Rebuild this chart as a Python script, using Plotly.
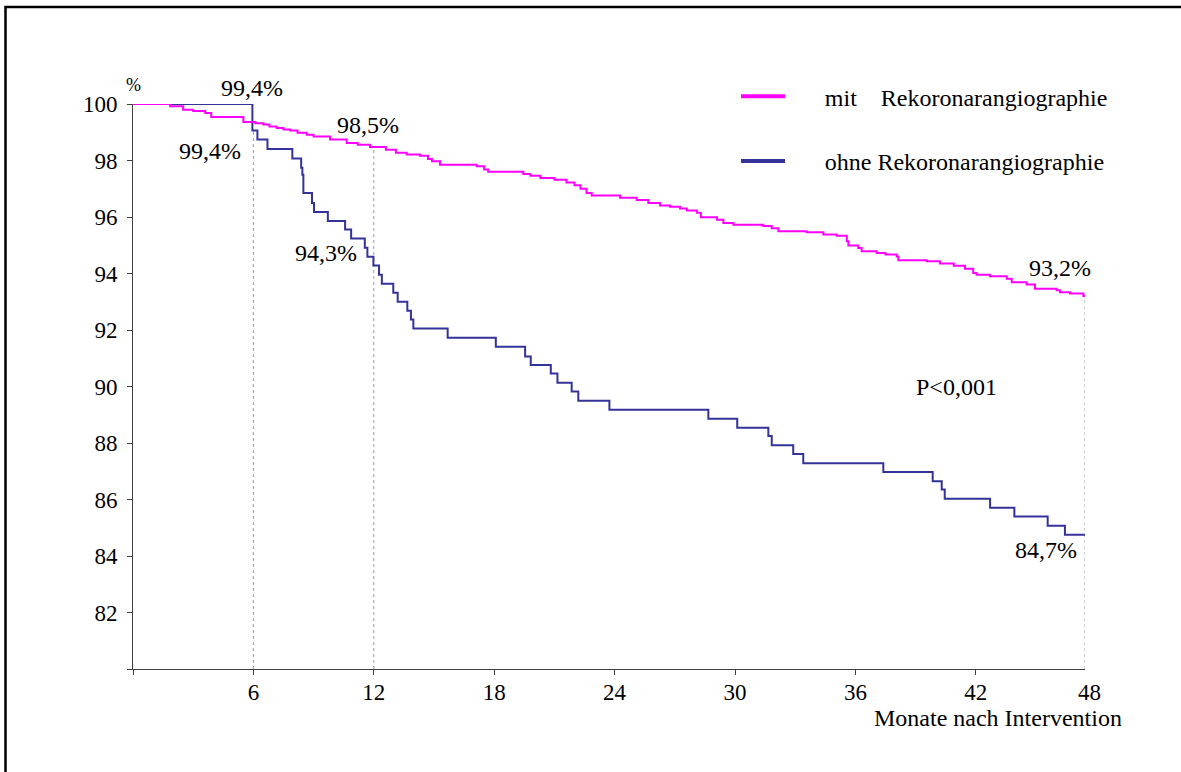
import plotly.graph_objects as go

# ---------------- data ----------------
END_MONTH = 47.44  # right end of the time axis

# "mit Rekoronarangiographie" (magenta) - step times (months) and survival (%)
mit_months = [0, 1.85, 2.5, 3.0, 3.6, 3.9, 5.5, 6.1, 6.5, 6.8, 7.16, 7.5, 7.83, 8.2,
              8.66, 9.0, 9.82, 10.65, 11.2, 11.81, 12.6, 13.1, 13.64, 14.3, 14.7,
              14.9, 15.3, 17.13, 17.5, 17.7, 19.45, 19.8, 20.3, 21.0, 21.6, 22.0,
              22.3, 22.6, 22.86, 24.27, 25.1, 25.68, 26.26, 26.76, 27.26, 27.6,
              28.1, 28.3, 29.1, 29.42, 29.92, 31.41, 31.83, 32.16, 33.57, 34.4,
              35.07, 35.57, 35.65, 36.14, 36.31, 37.06, 37.5, 38.06, 38.14, 39.55,
              40.21, 40.9, 41.46, 41.87, 42.04, 42.7, 43.54, 43.79, 44.53, 44.95,
              46.03, 46.19, 46.69, 47.36, END_MONTH]
mit_values = [100, 99.92, 99.80, 99.75, 99.68, 99.54, 99.36, 99.32, 99.27, 99.20,
              99.15, 99.10, 99.06, 98.98, 98.91, 98.85, 98.74, 98.62, 98.56, 98.48,
              98.38, 98.27, 98.21, 98.17, 98.05, 97.97, 97.85, 97.80, 97.68, 97.60,
              97.52, 97.46, 97.38, 97.32, 97.22, 97.12, 97.00, 96.85, 96.76, 96.68,
              96.60, 96.50, 96.41, 96.36, 96.30, 96.23, 96.15, 95.99, 95.90, 95.79,
              95.73, 95.68, 95.60, 95.50, 95.46, 95.38, 95.34, 95.14, 94.99, 94.90,
              94.79, 94.73, 94.67, 94.60, 94.47, 94.43, 94.35, 94.27, 94.17, 94.02,
              93.96, 93.90, 93.81, 93.69, 93.61, 93.46, 93.41, 93.34, 93.29, 93.20,
              93.20]

# "ohne Rekoronarangiographie" (navy)
ohne_months = [0, 5.95, 6.20, 6.70, 7.94, 8.38, 8.44, 8.49, 8.92, 9.02, 9.71, 10.57,
               10.87, 11.55, 11.68, 11.98, 12.26, 12.4, 12.97, 13.19, 13.67, 13.85,
               13.97, 15.68, 18.08, 19.54, 19.82, 20.82, 21.15, 21.86, 22.19, 23.74,
               28.67, 30.11, 31.66, 31.83, 32.9, 33.4, 37.39, 39.85, 40.3, 40.45,
               42.71, 43.92, 45.58, 46.44, END_MONTH]
ohne_values = [100, 99.06, 98.74, 98.41, 98.07, 97.74, 97.50, 96.85, 96.50, 96.18,
               95.86, 95.56, 95.24, 94.91, 94.59, 94.28, 93.96, 93.64, 93.32, 93.00,
               92.68, 92.37, 92.05, 91.73, 91.41, 91.06, 90.76, 90.46, 90.13, 89.82,
               89.50, 89.18, 88.86, 88.54, 88.25, 87.92, 87.61, 87.28, 86.97, 86.65,
               86.35, 86.03, 85.71, 85.40, 85.07, 84.75, 84.75]

# dotted reference lines: (month, value where the dotted line starts)
ref_months = [6, 12, END_MONTH]
ref_values = [99.06, 98.40, 93.20]

x_tickvals = [0, 6, 12, 18, 24, 30, 36, 42]
x_ticktext = ["", "6", "12", "18", "24", "30", "36", "42"]
y_tickvals = [80, 82, 84, 86, 88, 90, 92, 94, 96, 98, 100]
y_ticktext = ["", "82", "84", "86", "88", "90", "92", "94", "96", "98", "100"]

# value labels inside the plot: (text, month, value)
labels = [("99,4%", 3.83, 98.35), ("98,5%", 11.71, 99.27),
          ("94,3%", 9.6, 94.71), ("93,2%", 46.19, 94.18), ("84,7%", 45.5, 84.2),
          ("P<0,001", 41.05, 89.97)]

MAGENTA = "#FF00FF"
NAVY = "#333399"
AXIS = "#404040"
FONT = "Liberation Serif, Times New Roman, serif"

W, H = 1181, 772
L, R, T, B = 133, 96, 104, 103
pw, ph = W - L - R, H - T - B

def px_to_paper_x(px):
    return (px - L) / pw

def px_to_paper_y(py):
    return (H - B - py) / ph

fig = go.Figure()

for m, v in zip(ref_months, ref_values):
    fig.add_trace(go.Scatter(x=[m, m], y=[80, v], mode="lines", showlegend=False,
                             line=dict(color="#9a9a9a", width=1, dash="dot"),
                             hoverinfo="skip"))

fig.add_trace(go.Scatter(x=ohne_months, y=ohne_values, mode="lines", line_shape="hv",
                         line=dict(color=NAVY, width=2), showlegend=False,
                         cliponaxis=False))
fig.add_trace(go.Scatter(x=mit_months, y=mit_values, mode="lines", line_shape="hv",
                         line=dict(color=MAGENTA, width=2), showlegend=False,
                         cliponaxis=False))

# legend entries
NB = "\u00a0"
PAD = NB * 5 + "\u2009"
fig.add_trace(go.Scatter(x=[None], y=[None], mode="lines", legend="legend",
                         line=dict(color=MAGENTA, width=4),
                         name=PAD + "mit" + NB * 4 + "Rekoronarangiographie"))
fig.add_trace(go.Scatter(x=[None], y=[None], mode="lines", legend="legend2",
                         line=dict(color=NAVY, width=4),
                         name=PAD + "ohne Rekoronarangiographie"))

annotations = []
for t, m, v in labels:
    annotations.append(dict(text=t, x=m, y=v, xref="x", yref="y", showarrow=False,
                            xanchor="center", yanchor="middle",
                            font=dict(family=FONT, size=24, color="black")))
annotations.append(dict(text="99,4%", x=5.94, y=px_to_paper_y(88), xref="x", yref="paper",
                        xanchor="center", yanchor="middle",
                        showarrow=False, font=dict(family=FONT, size=24, color="black")))
annotations.append(dict(text="%", x=0, y=px_to_paper_y(85), xref="x", yref="paper",
                        xanchor="center", yanchor="middle",
                        showarrow=False, font=dict(family=FONT, size=18, color="black")))
annotations.append(dict(text="48", x=px_to_paper_x(1089), y=px_to_paper_y(693),
                        xref="paper", yref="paper", showarrow=False,
                        xanchor="center", yanchor="middle",
                        font=dict(family=FONT, size=23, color="black")))
annotations.append(dict(text="Monate nach Intervention", x=43.08, y=px_to_paper_y(718),
                        xref="x", yref="paper", showarrow=False,
                        xanchor="center", yanchor="middle",
                        font=dict(family=FONT, size=24, color="black")))

# outer frame: only the left and top edges fall inside the picture
fx0, fy_bottom = px_to_paper_x(5.5), px_to_paper_y(800)
fx1, fy_top = px_to_paper_x(1200), px_to_paper_y(7)
frame_path = f"M {fx0},{fy_bottom} L {fx0},{fy_top} L {fx1},{fy_top}"

fig.update_layout(
    width=W, height=H,
    margin=dict(l=L, r=R, t=T, b=B, pad=0),
    paper_bgcolor="white", plot_bgcolor="white",
    font=dict(family=FONT, size=23, color="black"),
    annotations=annotations,
    legend=dict(x=px_to_paper_x(736), y=px_to_paper_y(96.7), xanchor="left",
                yanchor="middle", bgcolor="rgba(0,0,0,0)", itemwidth=44,
                font=dict(family=FONT, size=24, color="black")),
    legend2=dict(x=px_to_paper_x(736), y=px_to_paper_y(161.3), xanchor="left",
                 yanchor="middle", bgcolor="rgba(0,0,0,0)", itemwidth=44,
                 font=dict(family=FONT, size=24, color="black")),
    shapes=[dict(type="path", xref="paper", yref="paper", path=frame_path,
                 line=dict(color="black", width=2.5), layer="below")],
)
fig.update_xaxes(range=[0, END_MONTH], tickvals=x_tickvals, ticktext=x_ticktext,
                 showline=True, linecolor=AXIS, linewidth=1, ticks="outside",
                 ticklen=5, tickcolor=AXIS, showgrid=False, zeroline=False,
                 ticklabelstandoff=-3, tickfont=dict(family=FONT, size=23))
fig.update_yaxes(range=[80, 100], tickvals=y_tickvals, ticktext=y_ticktext,
                 showline=True, linecolor=AXIS, linewidth=1, ticks="outside",
                 ticklen=5, tickcolor=AXIS, showgrid=False, zeroline=False,
                 ticklabelstandoff=5, tickfont=dict(family=FONT, size=23))

fig.write_html(
    "out.html", config={"displayModeBar": False},
    post_script=("document.body.style.margin='0';"
                 "document.body.style.overflow='hidden';"
                 "document.documentElement.style.overflow='hidden';"))
